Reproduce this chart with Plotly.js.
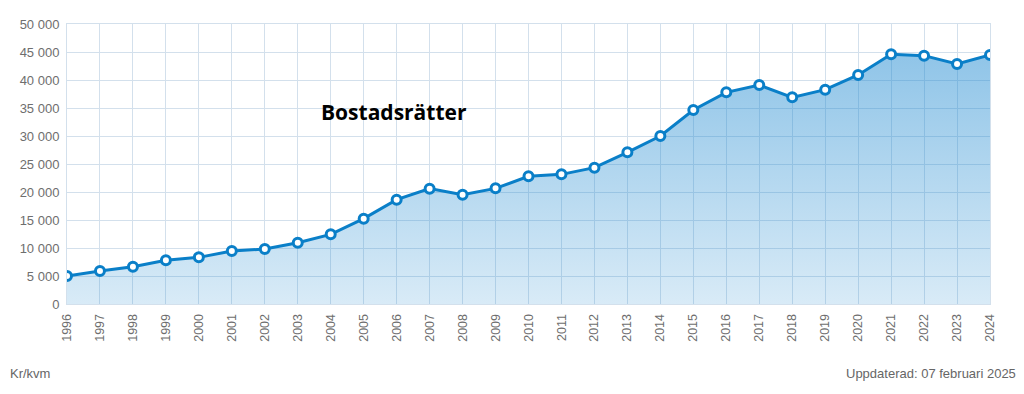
<!DOCTYPE html>
<html>
<head>
<meta charset="utf-8">
<script src="https://cdn.plot.ly/plotly-3.0.1.min.js"></script>
<style>
html,body{margin:0;padding:0;background:#fff;}
#chart{width:1024px;height:394px;}
</style>
</head>
<body>
<div id="chart"></div>
<script>
var years = ['1996','1997','1998','1999','2000','2001','2002','2003','2004','2005','2006','2007','2008','2009','2010','2011','2012','2013','2014','2015','2016','2017','2018','2019','2020','2021','2022','2023','2024'];
var prices = [5000,5900,6650,7800,8330,9460,9820,10950,12440,15240,18630,20600,19500,20650,22800,23150,24350,27080,30000,34640,37800,39100,36900,38270,40900,44600,44350,42860,44460];
var yTicks = [0,5000,10000,15000,20000,25000,30000,35000,40000,45000,50000];
var titleText = 'Bostadsrätter';
var unitText = 'Kr/kvm';
var updatedText = 'Uppdaterad: 07 februari 2025';

var trace = {
  x: years,
  y: prices,
  type: 'scatter',
  mode: 'lines+markers',
  fill: 'tozeroy',
  fillgradient: {
    type: 'vertical',
    start: 0,
    stop: 50000,
    colorscale: [[0, 'rgba(28,136,208,0.17)'], [1, 'rgba(28,136,208,0.53)']]
  },
  line: {color: '#0a7fc8', width: 3},
  marker: {size: 9, color: '#ffffff', line: {color: '#0a7fc8', width: 3}},
  hoverinfo: 'x+y'
};

var layout = {
  width: 1024,
  height: 394,
  margin: {l: 67, r: 34, t: 24, b: 90},
  paper_bgcolor: '#ffffff',
  plot_bgcolor: '#ffffff',
  showlegend: false,
  separators: ', ',
  font: {family: 'Liberation Sans, Arial, sans-serif', color: '#6e6e6e', size: 13},
  xaxis: {
    type: 'category',
    tickangle: -90,
    showgrid: true,
    gridcolor: '#d3e0ec',
    gridwidth: 1,
    showline: true,
    linecolor: '#d3e0ec',
    mirror: true,
    ticks: '',
    ticklabelstandoff: 4,
    tickfont: {size: 12.5, color: '#6e6e6e'},
    range: [0, years.length - 1],
    fixedrange: true
  },
  yaxis: {
    range: [0, 50000],
    tickvals: yTicks,
    separatethousands: true,
    tickformat: ',d',
    showgrid: true,
    gridcolor: '#d3e0ec',
    gridwidth: 1,
    zeroline: false,
    showline: true,
    linecolor: '#d3e0ec',
    mirror: true,
    ticks: '',
    ticklabelstandoff: 4,
    tickfont: {size: 13, color: '#6e6e6e'},
    fixedrange: true
  },
  annotations: [
    {
      text: '<b>' + titleText + '</b>',
      xref: 'paper', yref: 'paper',
      x: 0.354, y: 0.686,
      xanchor: 'center', yanchor: 'middle',
      showarrow: false,
      font: {family: 'Open Sans, sans-serif', size: 21, color: '#000000'}
    },
    {
      text: unitText,
      xref: 'paper', yref: 'paper',
      x: -0.0639, y: -0.247,
      xanchor: 'left', yanchor: 'middle',
      showarrow: false,
      font: {family: 'Liberation Sans, Arial, sans-serif', size: 13, color: '#666666'}
    },
    {
      text: updatedText,
      xref: 'paper', yref: 'paper',
      x: 1.0298, y: -0.247,
      xanchor: 'right', yanchor: 'middle',
      showarrow: false,
      font: {family: 'Liberation Sans, Arial, sans-serif', size: 13, color: '#666666'}
    }
  ]
};

Plotly.newPlot('chart', [trace], layout, {displayModeBar: false, staticPlot: true});
</script>
</body>
</html>
